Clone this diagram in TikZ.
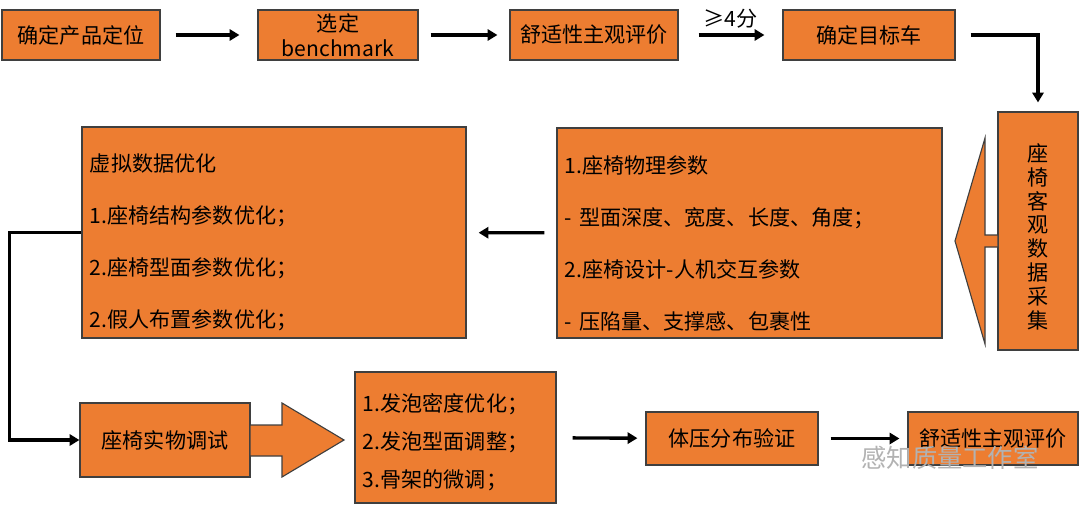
\documentclass[tikz,border=0pt]{standalone}
\usepackage{fontspec}
\setmainfont{Noto Sans CJK SC}
\usetikzlibrary{positioning, arrows.meta, calc}
\definecolor{kupfer}{HTML}{ED7D31}
\definecolor{rand}{HTML}{3F3F3F}

\begin{document}
\begin{tikzpicture}[x=0.025cm, y=-0.025cm,
      feld/.style={draw=rand, line width=0.8pt, fill=kupfer, text=black,
        align=center, font=\fontsize{15}{18}\selectfont, inner sep=0pt},
      liste/.style={feld, align=left, inner xsep=0.2cm},
      pfeil/.style={-{Triangle[length=7pt, width=8pt]}, black, line width=2.4pt},
      block/.style={draw=rand, line width=0.8pt, fill=kupfer}]
    \useasboundingbox (0,0) rectangle (1080,506);
    % obere Reihe
    \node[feld, minimum width=3.95cm, minimum height=1.25cm] (lage) at (81,35) {确定产品定位};
    \node[feld, minimum width=4.0cm, minimum height=1.25cm] (bench) at (338,35) {选定\\benchmark};
    \node[feld, minimum width=4.2cm, minimum height=1.25cm] (subj) at (594,35) {舒适性主观评价};
    \node[feld, minimum width=4.3cm, minimum height=1.25cm] (ziel) at (869,35) {确定目标车};
    \draw[pfeil, shorten <=0.375cm, shorten >=0.45cm] (lage) -- (bench);
    \draw[pfeil, shorten <=0.3cm, shorten >=0.3cm] (bench) -- (subj);
    \draw[pfeil, shorten <=0.5cm, shorten >=0.45cm] (subj) -- node[midway, above=0pt, font=\fontsize{15}{18}\selectfont]{≥4分} (ziel);
    % mittlere Reihe
    \node[feld, font=\fontsize{15}{17}\selectfont, minimum width=2.0cm, minimum height=5.95cm] (objekt) at (1038,231)
      {\rule{0pt}{21pt}座\\椅\\客\\观\\数\\据\\采\\集};
    \draw[pfeil, shorten <=0.375cm] (ziel.east) -| ($(objekt.north)+(0,-9)$);
    \draw[block] (998,235) -- (985,235) -- (985,138) -- (955,241) -- (985,344) -- (985,247) -- (998,247) -- cycle;
    \node[liste, minimum width=9.625cm, minimum height=5.25cm, text width=9.225cm] (physik) at (749.5,233)
      {\rule{0pt}{27pt}1.座椅物理参数\\[19pt] - 型面深度、宽度、长度、角度；\\[19pt]2.座椅设计-人机交互参数\\[19pt] - 压陷量、支撑感、包裹性};
    \node[liste, minimum width=9.6cm, minimum height=5.275cm, text width=9.2cm] (virtuell) at (274,232.5)
      {\rule{0pt}{27pt}虚拟数据优化\\[19pt]1.座椅结构参数优化；\\[19pt]2.座椅型面参数优化；\\[19pt]2.假人布置参数优化；};
    \draw[pfeil, shorten <=0.3cm, shorten >=0.3cm] (physik) -- (virtuell);
    % untere Reihe
    \node[feld, minimum width=4.25cm, minimum height=1.85cm] (real) at (165,440) {座椅实物调试};
    \draw[pfeil] (virtuell.west) -- ++(-72,0) |- (real.west);
    \draw[block] (250,425) -- (282,425) -- (282,403) -- (344,440) -- (282,477) -- (282,456) -- (250,456) -- cycle;
    \node[liste, minimum width=5.025cm, minimum height=3.275cm, text width=4.625cm] (schaum) at (455.5,437.5)
      {\rule{0pt}{19pt}1.发泡密度优化；\\[9pt]2.发泡型面调整；\\[9pt]3.骨架的微调；};
    \node[feld, minimum width=4.3cm, minimum height=1.325cm] (druck) at (732,438.5) {体压分布验证};
    \node[feld, minimum width=4.25cm, minimum height=1.325cm] (subj2) at (993,438.5) {舒适性主观评价};
    \draw[pfeil, shorten <=0.4cm, shorten >=0.2cm] (schaum) -- (druck);
    \draw[pfeil, shorten <=0.3cm, shorten >=0.2cm] (druck) -- (subj2);
    \node[text=gray!60, font=\fontsize{18}{20}\selectfont] (marke) at (950,458) {感知质量工作室};
  \end{tikzpicture}
\end{document}
